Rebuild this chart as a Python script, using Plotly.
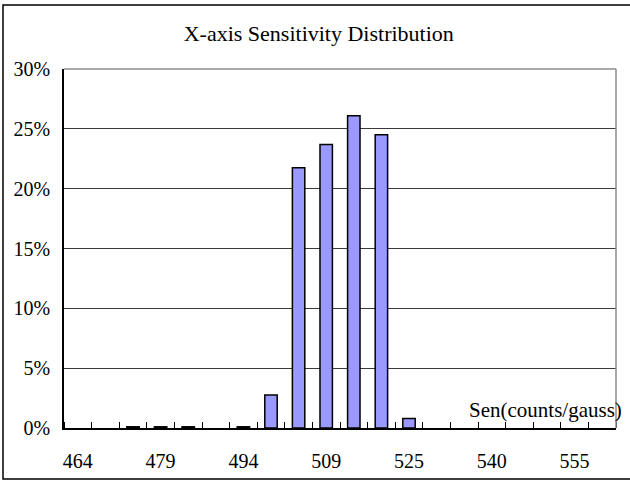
import plotly.graph_objects as go

# ---- data ----
categories = ["464", "469", "474", "479", "484", "489", "494", "499", "504", "509",
              "514", "520", "525", "530", "535", "540", "545", "550", "555", "560"]
percent = [0, 0, 0.1, 0.1, 0.1, 0, 0.1, 2.75, 21.75, 23.7,
           26.1, 24.5, 0.8, 0, 0, 0, 0, 0, 0, 0]
label_every = 3
title_text = "X-axis Sensitivity Distribution"
x_title_text = "Sen(counts/gauss)"

idx = list(range(len(categories)))
tick_idx = idx[::label_every]
tick_txt = [categories[i] for i in tick_idx]
boundaries = [i - 0.5 for i in range(len(categories) + 1)]
outline_w = [1.5 if v > 0 else 0 for v in percent]

FONT = "Liberation Serif, Times New Roman, serif"

fig = go.Figure()
fig.add_trace(go.Bar(
    x=idx, y=percent,
    marker=dict(color="#9999FF", line=dict(color="black", width=outline_w)),
    hoverinfo="skip",
))

fig.update_layout(
    width=630, height=484,
    margin=dict(l=64, r=14, t=69, b=53),
    paper_bgcolor="white", plot_bgcolor="white",
    bargap=0.55,
    showlegend=False,
    font=dict(family=FONT, color="black", size=20),
    title=dict(text=title_text, x=0.506, xanchor="center", y=1 - 33 / 484,
               yanchor="middle", font=dict(family=FONT, size=22, color="black")),
    xaxis=dict(
        range=[-0.5, len(categories) - 0.5],
        tickmode="array", tickvals=tick_idx, ticktext=tick_txt,
        ticks="", showgrid=False, zeroline=False,
        showline=True, linecolor="black", linewidth=1.5,
        ticklabelstandoff=14,
        tickfont=dict(family=FONT, size=20, color="black"),
        minor=dict(tickmode="array", tickvals=boundaries, ticks="inside",
                   ticklen=6, tickcolor="black", tickwidth=1, showgrid=False),
    ),
    yaxis=dict(
        range=[0, 30], dtick=5, tick0=0, ticksuffix="%",
        showgrid=True, gridcolor="#3a3a3a", gridwidth=1,
        zeroline=False, showline=True, linecolor="black", linewidth=1.5,
        ticks="", ticklabelstandoff=8,
        tickfont=dict(family=FONT, size=20, color="black"),
    ),
    shapes=[
        # plot area top/right border (gray)
        dict(type="line", xref="paper", yref="paper", x0=0, x1=1, y0=1, y1=1,
             line=dict(color="#8c8c8c", width=1.5)),
        dict(type="line", xref="paper", yref="paper", x0=1, x1=1, y0=0, y1=1,
             line=dict(color="#8c8c8c", width=1.5)),
        # outer chart border
        dict(type="rect", xref="paper", yref="paper",
             x0=(3 - 64) / 552, x1=(634 - 64) / 552,
             y0=(431 - 482.5) / 362, y1=(431 - 4.5) / 362,
             line=dict(color="black", width=1.5), layer="above"),
    ],
    annotations=[
        dict(text=x_title_text, xref="paper", yref="paper",
             x=(624 - 64) / 552, xanchor="right",
             y=(431 - 413) / 362, yanchor="middle", showarrow=False,
             font=dict(family=FONT, size=21, color="black")),
    ],
)

fig.write_html(
    "out.html",
    config={"displayModeBar": False},
    post_script="document.body.style.margin='0';document.body.style.overflow='hidden';",
)
